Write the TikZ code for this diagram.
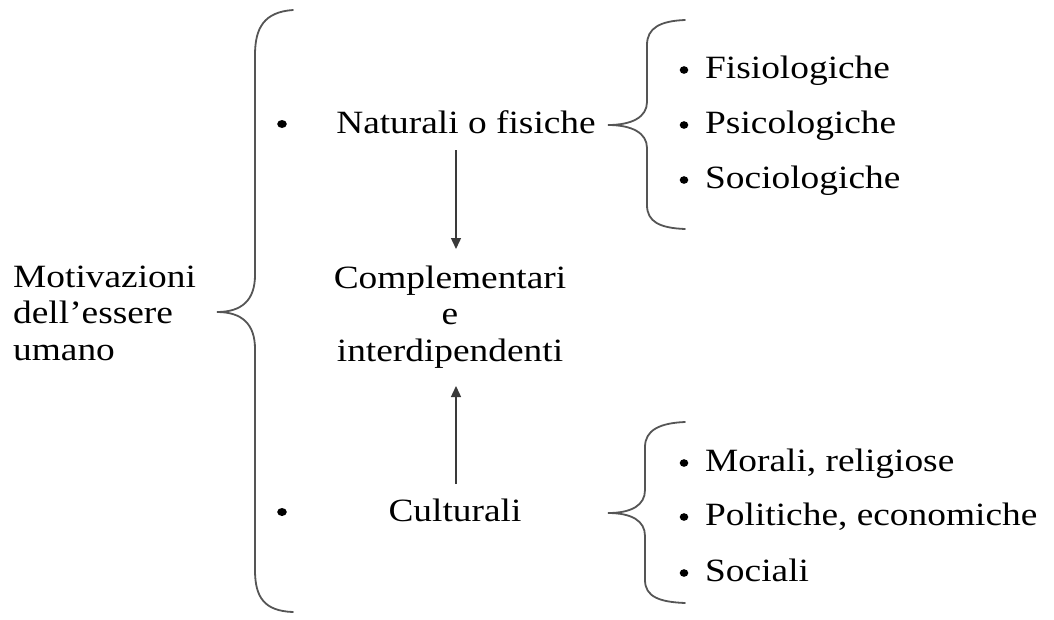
\documentclass[tikz,border=0pt]{standalone}
\usepackage{fontspec}
\setmainfont{Liberation Serif}[FakeStretch=1.15]
\usetikzlibrary{arrows.meta}
\definecolor{bracegray}{HTML}{555555}
\definecolor{arrowgray}{HTML}{3A3A3A}
\tikzset{
  lbl/.style={inner sep=0pt, font=\fontsize{32.5}{36.5}\selectfont, text=black},
  bracepath/.style={draw=bracegray, line width=1.8pt, line cap=round},
  arr/.style={draw=arrowgray, line width=1.4pt, -{Triangle[length=11pt,width=10pt]}},
  dot/.style={fill=black, draw=none}
}
\begin{document}
\begin{tikzpicture}[x=1pt,y=-1pt]
\useasboundingbox (0,0) rectangle (1054,619);

% main label and the large brace
\node[lbl, anchor=west, align=left] (mot) at (13,313) {Motivazioni\\dell’essere\\umano};
\draw[bracepath] (293,10) .. controls (264,12) and (255,28) .. (255,55)
  -- (255,275) .. controls (255,300) and (242,312) .. (217,312)
  .. controls (242,312) and (255,324) .. (255,349)
  -- (255,570) .. controls (255,597) and (264,611) .. (293,612);

% two branches
\fill[dot] (282,124) ellipse (4.8pt and 4pt);
\node[lbl, anchor=base] (nat) at (466,133) {Naturali o fisiche};
\fill[dot] (282,512) ellipse (4.8pt and 4pt);
\node[lbl, anchor=base] (cul) at (455,521) {Culturali};

% centre block and its arrows
\node[lbl, align=center] (comp) at (450,317) {Complementari\\e\\interdipendenti};
\coordinate (a1s) at (456,150);
\coordinate (a1e) at (456,249);
\coordinate (a2s) at (456,484);
\coordinate (a2e) at (456,386);
\draw[arr] (a1s) -- (a1e);
\draw[arr] (a2s) -- (a2e);

% upper sub-brace
\draw[bracepath] (685,20) .. controls (660,21) and (647,28) .. (647,45)
  -- (647,102) .. controls (647,117) and (632,125) .. (608,125)
  .. controls (632,125) and (647,133) .. (647,148)
  -- (647,205) .. controls (647,222) and (660,228) .. (685,229);
\foreach \yy in {70,125,180} \fill[dot] (684,\yy) ellipse (4.3pt and 3.8pt);
\node[lbl, anchor=base west] (fis) at (705,78) {Fisiologiche};
\node[lbl, anchor=base west] (psi) at (705,133) {Psicologiche};
\node[lbl, anchor=base west] (soc) at (705,188) {Sociologiche};

% lower sub-brace
\draw[bracepath] (685,422) .. controls (660,423) and (645,430) .. (645,447)
  -- (645,490) .. controls (645,505) and (632,513) .. (608,513)
  .. controls (632,513) and (645,521) .. (645,536)
  -- (645,580) .. controls (645,597) and (660,602) .. (685,603);
\foreach \yy in {463,517,573} \fill[dot] (684,\yy) ellipse (4.3pt and 3.8pt);
\node[lbl, anchor=base west] (mor) at (705,471) {Morali, religiose};
\node[lbl, anchor=base west] (pol) at (705,525) {Politiche, economiche};
\node[lbl, anchor=base west] (soci) at (705,581) {Sociali};
\end{tikzpicture}
\end{document}
